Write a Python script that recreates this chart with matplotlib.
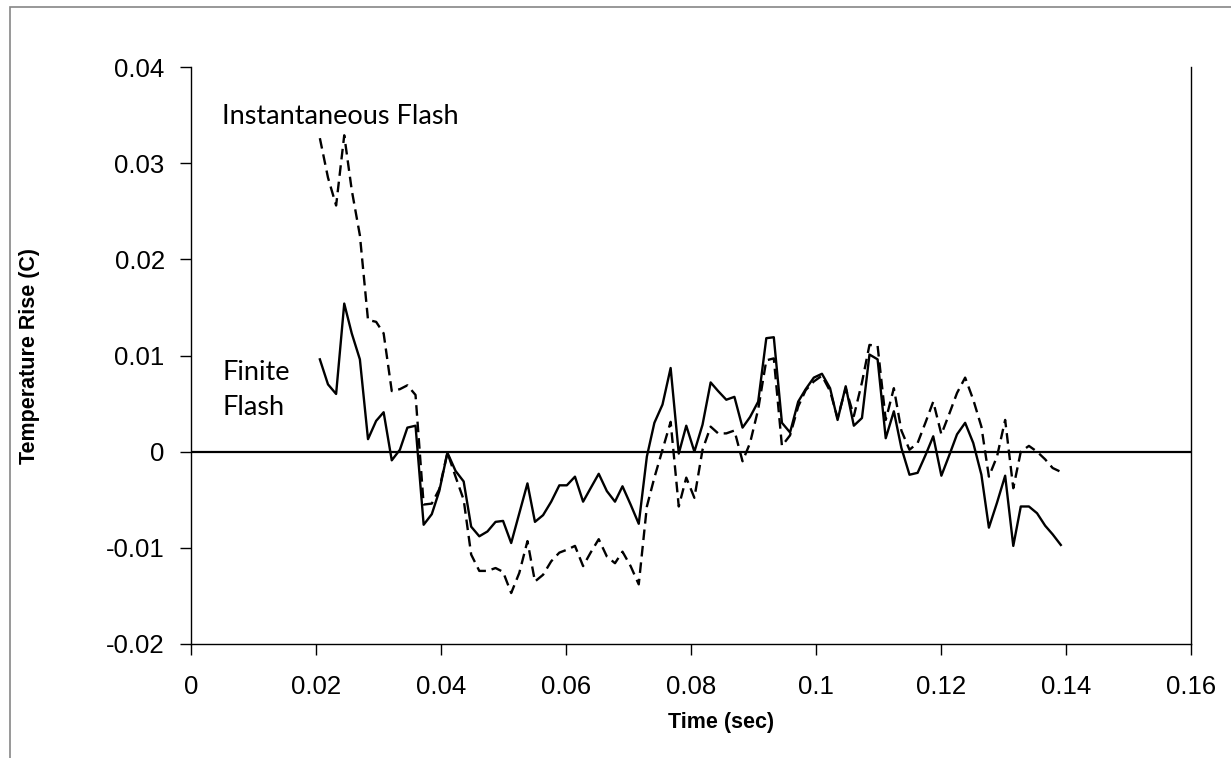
import matplotlib
matplotlib.use("Agg")
import matplotlib.pyplot as plt
from matplotlib.patches import Rectangle

# sample times (s)
time = [0.0206, 0.0219, 0.0232, 0.0245, 0.0257, 0.0270, 0.0283, 0.0296, 0.0308, 0.0321,
        0.0334, 0.0346, 0.0359, 0.0372, 0.0385, 0.0397, 0.0410, 0.0423, 0.0436, 0.0448,
        0.0461, 0.0474, 0.0487, 0.0499, 0.0512, 0.0525, 0.0538, 0.0550, 0.0563, 0.0576,
        0.0589, 0.0601, 0.0614, 0.0627, 0.0639, 0.0652, 0.0665, 0.0678, 0.0690, 0.0703,
        0.0716, 0.0729, 0.0741, 0.0754, 0.0767, 0.0780, 0.0792, 0.0805, 0.0818, 0.0831,
        0.0843, 0.0856, 0.0869, 0.0882, 0.0894, 0.0907, 0.0920, 0.0932, 0.0945, 0.0958,
        0.0971, 0.0983, 0.0996, 0.1009, 0.1022, 0.1034, 0.1047, 0.1060, 0.1073, 0.1085,
        0.1098, 0.1111, 0.1124, 0.1136, 0.1149, 0.1162, 0.1175, 0.1187, 0.1200, 0.1213,
        0.1225, 0.1238, 0.1251, 0.1264, 0.1276, 0.1289, 0.1302, 0.1315, 0.1327, 0.1340,
        0.1353, 0.1366, 0.1378, 0.1391]

# finite flash model (solid)
finite = [0.0096, 0.0070, 0.0060, 0.0154, 0.0123, 0.0096, 0.0013, 0.0032, 0.0041, -0.0009,
          0.0002, 0.0025, 0.0027, -0.0076, -0.0065, -0.0041, -0.0001, -0.0020, -0.0031, -0.0078,
          -0.0088, -0.0083, -0.0073, -0.0072, -0.0095, -0.0064, -0.0033, -0.0073, -0.0066, -0.0052,
          -0.0035, -0.0035, -0.0026, -0.0052, -0.0038, -0.0023, -0.0041, -0.0052, -0.0036, -0.0055,
          -0.0075, -0.0005, 0.0030, 0.0049, 0.0087, -0.0002, 0.0027, 0.0000, 0.0028, 0.0072,
          0.0063, 0.0054, 0.0057, 0.0025, 0.0036, 0.0052, 0.0118, 0.0119, 0.0030, 0.0020,
          0.0052, 0.0065, 0.0077, 0.0081, 0.0066, 0.0033, 0.0068, 0.0027, 0.0035, 0.0101,
          0.0096, 0.0014, 0.0042, 0.0004, -0.0024, -0.0022, -0.0003, 0.0016, -0.0025, -0.0003,
          0.0018, 0.0030, 0.0009, -0.0024, -0.0079, -0.0053, -0.0025, -0.0098, -0.0057, -0.0057,
          -0.0064, -0.0077, -0.0086, -0.0097]

# instantaneous flash model (dashed)
instant = [0.0326, 0.0285, 0.0256, 0.0329, 0.0272, 0.0225, 0.0137, 0.0135, 0.0123, 0.0063,
           0.0065, 0.0069, 0.0059, -0.0055, -0.0054, -0.0039, -0.0001, -0.0026, -0.0050, -0.0107,
           -0.0124, -0.0124, -0.0121, -0.0125, -0.0147, -0.0126, -0.0093, -0.0135, -0.0128, -0.0114,
           -0.0105, -0.0102, -0.0098, -0.0119, -0.0105, -0.0091, -0.0109, -0.0116, -0.0104, -0.0119,
           -0.0138, -0.0057, -0.0027, 0.0002, 0.0031, -0.0057, -0.0027, -0.0048, 0.0002, 0.0026,
           0.0019, 0.0019, 0.0022, -0.0010, 0.0009, 0.0044, 0.0095, 0.0097, 0.0006, 0.0017,
           0.0047, 0.0064, 0.0073, 0.0079, 0.0063, 0.0035, 0.0066, 0.0037, 0.0072, 0.0111,
           0.0110, 0.0033, 0.0066, 0.0022, 0.0002, 0.0009, 0.0031, 0.0052, 0.0018, 0.0040,
           0.0061, 0.0077, 0.0054, 0.0026, -0.0026, -0.0005, 0.0033, -0.0038, 0.0000, 0.0006,
           0.0000, -0.0008, -0.0017, -0.0021]

xticks = [0, 0.02, 0.04, 0.06, 0.08, 0.1, 0.12, 0.14, 0.16]
xticklabels = ["0", "0.02", "0.04", "0.06", "0.08", "0.1", "0.12", "0.14", "0.16"]
yticks = [-0.02, -0.01, 0, 0.01, 0.02, 0.03, 0.04]
yticklabels = ["-0.02", "-0.01", "0", "0.01", "0.02", "0.03", "0.04"]

plt.rcParams['font.family'] = ['Liberation Sans', 'DejaVu Sans']

fig = plt.figure(figsize=(12.31, 7.58), dpi=100)
ax = fig.add_axes([0.1552, 0.1504, 0.8127, 0.7612])

# chart area border (clipped at right/bottom like the original)
fig.patches.append(Rectangle((9.5 / 1231, -0.1), 1.2, 1 - 7 / 758 + 0.1,
                             transform=fig.transFigure, fill=False,
                             edgecolor='#868686', linewidth=1.2))

ax.axhline(0, color='black', linewidth=1.6, zorder=1)
ax.plot(time, instant, color='black', linewidth=1.7, dashes=(4.5, 2.5))
ax.plot(time, finite, color='black', linewidth=1.7)

ax.set_xlim(0, 0.16)
ax.set_ylim(-0.02, 0.04)
ax.set_xticks(xticks)
ax.set_xticklabels(xticklabels)
ax.set_yticks(yticks)
ax.set_yticklabels(yticklabels)
ax.tick_params(direction='out', length=8, width=1, labelsize=18.5, pad=11)
ax.tick_params(axis='x', pad=14)

ax.spines['top'].set_visible(False)
for side in ['left', 'bottom', 'right']:
    ax.spines[side].set_linewidth(1)

ax.set_xlabel("Time (sec)", fontsize=15.5, fontweight='bold')
ax.set_ylabel("Temperature Rise (C)", fontsize=15.5, fontweight='bold')
ax.xaxis.set_label_coords(0.53, -0.118)
ax.yaxis.set_label_coords(-0.151, 0.5)

ax.text(0.005, 0.0341, "Instantaneous Flash", family=['Lato', 'DejaVu Sans'],
        fontsize=19.5, ha='left', va='baseline')
ax.text(0.005, 0.0075, "Finite", family=['Lato', 'DejaVu Sans'],
        fontsize=19.5, ha='left', va='baseline')
ax.text(0.005, 0.0038, "Flash", family=['Lato', 'DejaVu Sans'],
        fontsize=19.5, ha='left', va='baseline')

fig.savefig("out.png", dpi=100)
